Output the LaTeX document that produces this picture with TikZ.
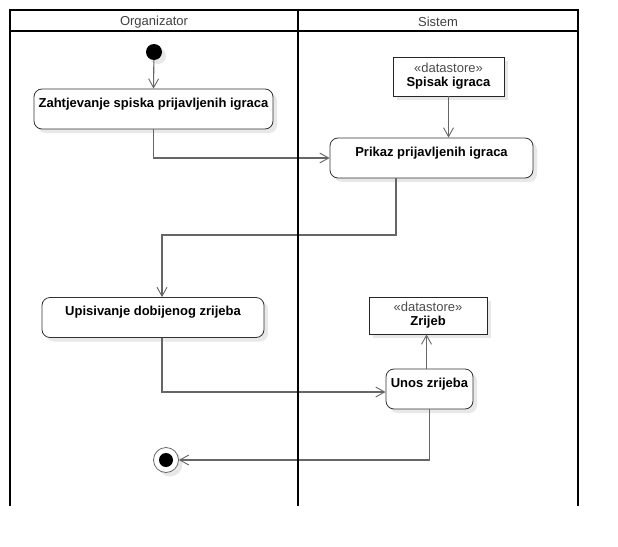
\documentclass[tikz,border=0pt]{standalone}
\usepackage{fontspec}
\setmainfont{Liberation Sans}
\usetikzlibrary{arrows.meta,shadows}
\begin{document}
\begin{tikzpicture}[x=1pt,y=-1pt,
  shade/.style={drop shadow={shadow xshift=4pt,shadow yshift=-4pt,fill=black!9,opacity=1}},
  action/.style={draw=black!80, line width=0.8pt, rounded corners=8pt, fill=white, shade,
    font=\bfseries\fontsize{13}{15}\selectfont, inner xsep=2pt, inner ysep=0pt,
    text height=18pt, text depth=22pt, minimum height=40pt},
  store/.style={draw=black!85, line width=0.8pt, fill=white, shade, align=center,
    font=\fontsize{13}{14}\selectfont, inner sep=0pt},
  flow/.style={draw=black!60, line width=1.1pt, -{Straight Barb[length=9pt,width=10pt,line width=0.9pt]}},
  lane/.style={draw=black, line width=2pt},
  hdr/.style={font=\fontsize{13}{15}\selectfont, text=black!75}
]
\useasboundingbox (0,0) rectangle (618,546);

% nodes
\node[circle, fill=black, minimum size=16pt, inner sep=0pt, shade] (init) at (154,52) {};
\node[action, minimum width=239pt] (zah) at (153.5,109) {Zahtjevanje spiska prijavljenih igraca};
\node[store, minimum width=111pt, minimum height=39pt, text depth=4pt] (spisak) at (448.5,76.5)
  {{\color{black!70}«datastore»}\\\textbf{Spisak igraca}};
\node[action, minimum width=203pt] (prikaz) at (431.5,158) {Prikaz prijavljenih igraca};
\node[action, minimum width=222pt] (upis) at (153,317.5) {Upisivanje dobijenog zrijeba};
\node[store, minimum width=118pt, minimum height=37pt, text depth=4pt] (zrijeb) at (428,315.5)
  {{\color{black!70}«datastore»}\\\textbf{Zrijeb}};
\node[action, minimum width=87pt] (unos) at (429.5,389) {Unos zrijeba};
\node[circle, draw=black!60, line width=0.8pt, fill=white, minimum size=25pt, inner sep=0pt, shade] (fin) at (166,460) {};
\node[circle, fill=black, minimum size=14pt, inner sep=0pt] (fincore) at (fin) {};

\coordinate (m1) at (300,235);

% connectors
\draw[flow] (init) -- (zah.north);
\draw[flow] (zah.south) |- (prikaz.west);
\draw[flow] (spisak.south) -- (spisak.south |- prikaz.north);
\draw[flow] ([xshift=-35.5pt]prikaz.south) |- (m1) -| ([xshift=9pt]upis.north);
\draw[flow] ([xshift=9pt]upis.south) |- ([yshift=-3pt]unos.west);
\draw[flow] ([xshift=-3pt]unos.north) -- ([xshift=-3pt]unos.north |- zrijeb.south);
\draw[flow] (unos.south) |- (fin.east);

% swimlanes
\draw[lane] (10,506) -- (10,10) -- (578,10) -- (578,506);
\draw[lane] (10,31) -- (578,31);
\draw[lane] (298,10) -- (298,506);
\node[hdr] (h1) at (154,22) {Organizator};
\node[hdr] (h2) at (438,22) {Sistem};
\end{tikzpicture}
\end{document}
